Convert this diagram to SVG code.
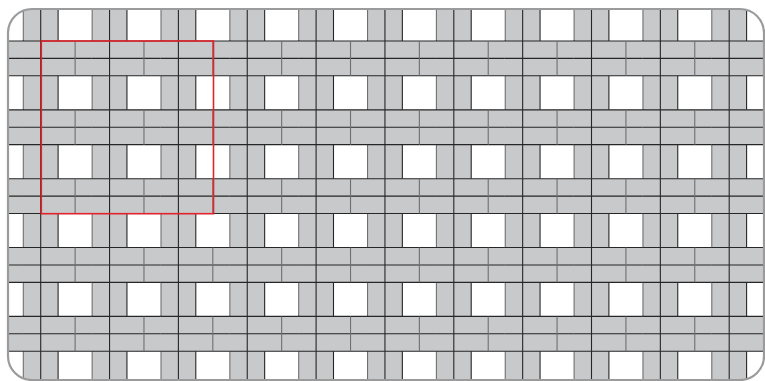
<svg xmlns="http://www.w3.org/2000/svg" xmlns:xlink="http://www.w3.org/1999/xlink" width="765" height="381" viewBox="0 0 765 381">
<style>
.fill{fill:#c8c9cb;stroke:none}
.dk{stroke:#262626;stroke-width:1.1;fill:none}
.gr{stroke:#6f6f6f;stroke-width:1.1;fill:none}
</style>
<defs>
<clipPath id="frameClip"><rect x="8" y="9" width="756" height="371" rx="24" ry="24"/></clipPath>
<g id="tileFill">
<rect class="fill" x="-0.5" y="0" width="69.85" height="34.8"/>
<rect class="fill" x="0" y="34" width="34.8" height="35.6"/>
</g>
<g id="tileLines">
<path class="gr" d="M0 34.8V68.85"/>
<path class="dk" d="M17.4 34.8V68.85M34.8 34.8V68.85"/>
<path class="dk" d="M-0.5 0H69.35M-0.5 17.4H69.35M-0.5 34.8H69.35"/>
<path class="dk" d="M17.4 0V34.8"/>
<path class="gr" d="M51.82 0V34.8"/>
</g>
<g id="tile">
<use xlink:href="#tileFill"/>
<use xlink:href="#tileLines"/>
</g>
<g id="row">
<use xlink:href="#tile" x="-45.55"/>
<use xlink:href="#tile" x="23.3"/>
<use xlink:href="#tile" x="92.15"/>
<use xlink:href="#tile" x="161"/>
<use xlink:href="#tile" x="229.85"/>
<use xlink:href="#tile" x="298.7"/>
<use xlink:href="#tile" x="367.55"/>
<use xlink:href="#tile" x="436.4"/>
<use xlink:href="#tile" x="505.25"/>
<use xlink:href="#tile" x="574.1"/>
<use xlink:href="#tile" x="642.95"/>
<use xlink:href="#tile" x="711.8"/>
</g>
</defs>
<rect x="0" y="0" width="765" height="381" fill="#ffffff"/>
<g id="weave" clip-path="url(#frameClip)">
<use xlink:href="#row" y="-27.85"/>
<use xlink:href="#row" y="41"/>
<use xlink:href="#row" y="109.85"/>
<use xlink:href="#row" y="178.7"/>
<use xlink:href="#row" y="247.55"/>
<use xlink:href="#row" y="316.4"/>
</g>
<rect id="frame" x="8" y="9" width="756" height="371" rx="24" ry="24" fill="none" stroke="#9b9b9b" stroke-width="2.2"/>
<rect id="highlight" x="41.3" y="41" width="172.2" height="172.7" fill="none" stroke="#e2232a" stroke-width="1.6"/>
</svg>
